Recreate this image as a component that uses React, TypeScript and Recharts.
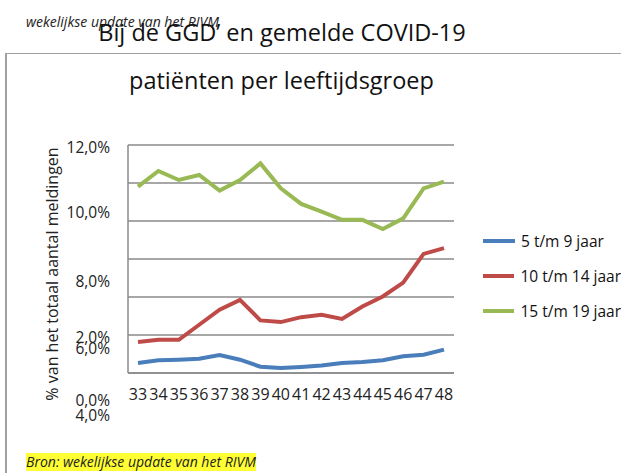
import React from 'react';
import {
  LineChart,
  Line,
  XAxis,
  YAxis,
  CartesianGrid,
  Legend,
} from 'recharts';

const weeks = ['33', '34', '35', '36', '37', '38', '39', '40', '41', '42', '43', '44', '45', '46', '47', '48'];

const age5to9 = [0.53, 0.67, 0.7, 0.75, 0.95, 0.7, 0.33, 0.26, 0.32, 0.4, 0.53, 0.58, 0.67, 0.88, 0.96, 1.23];
const age10to14 = [1.63, 1.75, 1.75, 2.54, 3.33, 3.85, 2.77, 2.68, 2.94, 3.06, 2.85, 3.5, 4.03, 4.76, 6.27, 6.57];
const age15to19 = [9.81, 10.63, 10.16, 10.42, 9.6, 10.16, 11.03, 9.72, 8.9, 8.49, 8.06, 8.06, 7.58, 8.14, 9.72, 10.07];

const yTicks = [0, 2, 4, 6, 8, 10, 12];

const seriesNames = ['5 t/m 9 jaar', '10 t/m 14 jaar', '15 t/m 19 jaar'];

const data = weeks.map((w, i) => ({
  week: w,
  a: age5to9[i],
  b: age10to14[i],
  c: age15to19[i],
}));

const FONT = '"Open Sans", sans-serif';
const GRID = '#8a8a8a';

// the y labels in the source picture sit off their gridlines; keep that look
const labelShift: Record<number, number> = { 12: 3, 10: 30, 8: 61, 6: 90, 4: 119, 2: 3, 0: 28 };

const YTick = (props: any) => {
  const { y, payload } = props;
  const v = payload.value as number;
  return (
    <text
      x={110}
      y={y + (labelShift[v] || 0)}
      dy="0.35em"
      textAnchor="end"
      fontFamily={FONT}
      fontSize={15.5}
      fill="#222"
    >
      {v.toFixed(1).replace('.', ',') + '%'}
    </text>
  );
};

const YLabel = () => (
  <text
    transform="translate(52,274) rotate(-90)"
    textAnchor="middle"
    dominantBaseline="central"
    fontFamily={FONT}
    fontSize={16}
    fill="#222"
  >
    % van het totaal aantal meldingen
  </text>
);

const LegendBox = (props: any) => {
  const items = [...(props.payload || [])].sort((p: any, q: any) =>
    String(p.dataKey).localeCompare(String(q.dataKey))
  );
  return (
    <div style={{ fontFamily: FONT, fontSize: 15.5, color: '#111' }}>
      {items.map((p: any, i: number) => (
        <div key={i} style={{ display: 'flex', alignItems: 'center', height: 35 }}>
          <div style={{ width: 32, height: 4, background: p.color, marginRight: 6 }} />
          <span style={{ whiteSpace: 'nowrap' }}>{p.value}</span>
        </div>
      ))}
    </div>
  );
};

export default function App() {
  return (
    <div
      style={{
        position: 'absolute',
        left: 0,
        top: 0,
        width: 621,
        height: 473,
        overflow: 'hidden',
        background: '#fff',
        fontFamily: FONT,
      }}
    >
      <div
        style={{
          position: 'absolute',
          left: 5,
          top: 53,
          width: 616,
          height: 420,
          borderLeft: '2px solid #a0a0a0',
          borderTop: '1.5px solid #a0a0a0',
        }}
      />
      <div
        style={{
          position: 'absolute',
          left: 26,
          top: 12,
          fontSize: 14,
          fontStyle: 'italic',
          color: '#222',
          whiteSpace: 'nowrap',
        }}
      >
        wekelijkse update van het RIVM
      </div>
      <div
        style={{
          position: 'absolute',
          left: 0,
          width: 564,
          top: 17,
          textAlign: 'center',
          fontSize: 23.5,
          lineHeight: '30px',
          color: '#111',
          whiteSpace: 'nowrap',
        }}
      >
        Bij de GGD’ en gemelde COVID-19
      </div>
      <div
        style={{
          position: 'absolute',
          left: 0,
          width: 563,
          top: 65,
          textAlign: 'center',
          fontSize: 23.5,
          lineHeight: '30px',
          color: '#111',
          whiteSpace: 'nowrap',
        }}
      >
        patiënten per leeftijdsgroep
      </div>

      <div style={{ position: 'absolute', left: 0, top: 0 }}>
        <LineChart
          width={621}
          height={473}
          data={data}
          margin={{ top: 145, right: 167, bottom: 70, left: 48 }}
        >
          <CartesianGrid vertical={false} stroke={GRID} strokeWidth={1.5} />
          <XAxis
            dataKey="week"
            interval={0}
            padding={{ left: 10, right: 10 }}
            tickLine={false}
            tickSize={0}
            tickMargin={16}
            height={30}
            axisLine={{ stroke: GRID, strokeWidth: 1.5 }}
            tick={{ fontFamily: FONT, fontSize: 16, fill: '#222' }}
          />
          <YAxis
            width={80}
            domain={[0, 12]}
            ticks={yTicks}
            tickLine={false}
            axisLine={{ stroke: GRID, strokeWidth: 1.5 }}
            tick={<YTick />}
            label={{ content: () => <YLabel /> }}
          />
          <Legend
            layout="vertical"
            align="center"
            verticalAlign="middle"
            wrapperStyle={{ left: 483, top: 223, width: 138 }}
            content={<LegendBox />}
          />
          <Line
            name={seriesNames[0]}
            dataKey="a"
            stroke="#4a7ebb"
            strokeWidth={4}
            dot={false}
            isAnimationActive={false}
          />
          <Line
            name={seriesNames[1]}
            dataKey="b"
            stroke="#be4b48"
            strokeWidth={4}
            dot={false}
            isAnimationActive={false}
          />
          <Line
            name={seriesNames[2]}
            dataKey="c"
            stroke="#98b954"
            strokeWidth={4}
            dot={false}
            isAnimationActive={false}
          />
        </LineChart>
      </div>

      <div
        style={{
          position: 'absolute',
          left: 26,
          top: 453,
          fontSize: 14,
          lineHeight: '18px',
          fontStyle: 'italic',
          color: '#222',
          background: '#ffff33',
          whiteSpace: 'nowrap',
        }}
      >
        Bron: wekelijkse update van het RIVM
      </div>
    </div>
  );
}
